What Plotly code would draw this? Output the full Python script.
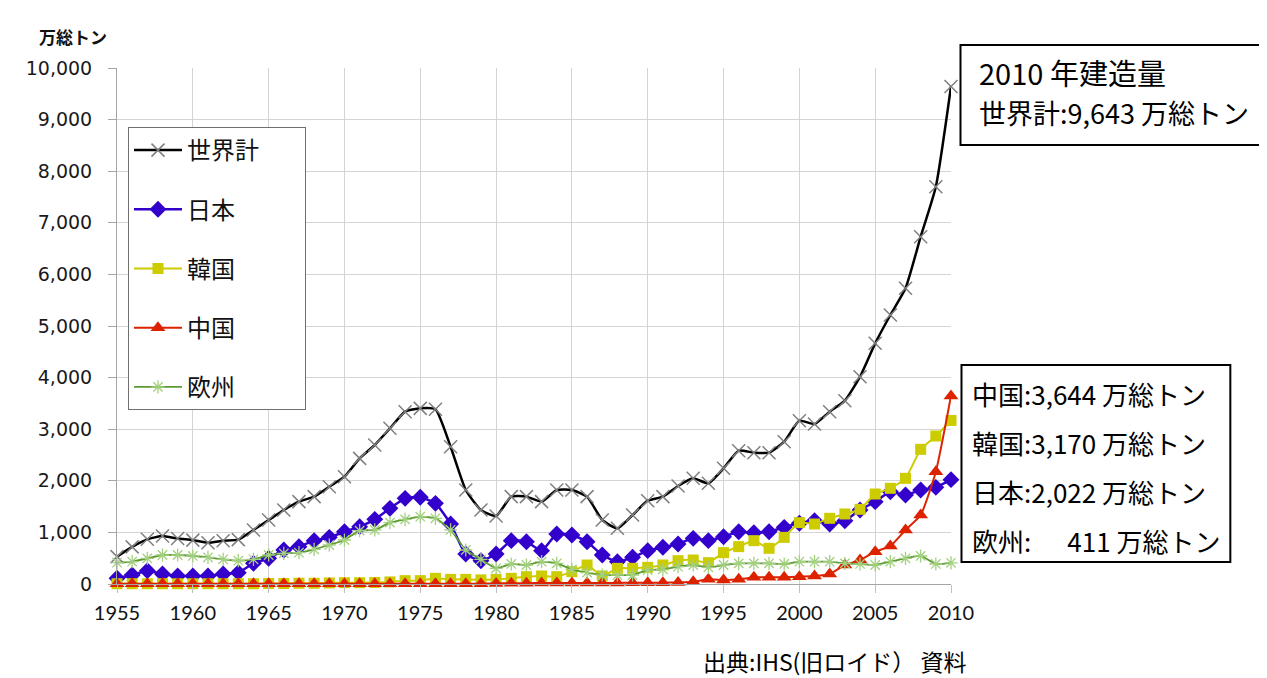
import plotly.graph_objects as go

years = list(range(1955, 2011))

world = [530, 720, 866, 930, 880, 850, 800, 840, 860, 1047, 1240, 1434, 1596, 1693, 1886,
         2080, 2435, 2694, 3017, 3340, 3404, 3385, 2661, 1822, 1434, 1318, 1693, 1693, 1596,
         1822, 1822, 1693, 1240, 1079, 1337, 1615, 1693, 1899, 2048, 1951, 2242, 2584, 2545,
         2545, 2758, 3165, 3100, 3340, 3553, 4018, 4664, 5213, 5730, 6731, 7700, 9643]

japan = [110, 175, 258, 194, 155, 155, 155, 194, 220, 400, 497, 659, 724, 840, 904,
         1014, 1111, 1253, 1466, 1660, 1680, 1563, 1163, 581, 452, 581, 840, 820, 646,
         969, 950, 820, 562, 433, 517, 646, 711, 775, 885, 840, 917, 1014, 995,
         1014, 1098, 1176, 1227, 1163, 1227, 1434, 1596, 1789, 1725, 1822, 1873, 2022]

korea = [5, 5, 5, 5, 5, 5, 5, 5, 5, 5, 10, 10, 15, 15, 20,
         25, 25, 30, 40, 65, 65, 110, 90, 90, 80, 90, 110, 142, 155,
         142, 239, 368, 155, 304, 304, 323, 368, 452, 465, 413, 607, 724, 840,
         691, 904, 1189, 1163, 1273, 1357, 1447, 1744, 1854, 2048, 2610, 2868, 3170]

china = [5, 5, 5, 5, 5, 5, 5, 5, 5, 5, 5, 5, 5, 5, 5,
         5, 5, 5, 5, 5, 5, 5, 5, 5, 5, 10, 15, 15, 20,
         20, 20, 20, 20, 20, 25, 25, 25, 30, 45, 90, 78, 90, 129,
         129, 129, 142, 155, 194, 368, 465, 627, 736, 1047, 1337, 2177, 3644]

europe = [413, 433, 497, 562, 562, 543, 517, 478, 452, 478, 562, 594, 607, 672, 756,
          853, 1034, 1047, 1189, 1253, 1305, 1273, 1047, 659, 478, 304, 388, 368, 433,
          400, 284, 220, 174, 174, 174, 271, 284, 336, 368, 323, 368, 400, 400,
          400, 388, 433, 433, 433, 400, 388, 368, 433, 497, 543, 388, 411]

names = ["世界計\u3000\u2002\u2009", "日本", "韓国", "中国", "欧州"]

yticks = [0, 1000, 2000, 3000, 4000, 5000, 6000, 7000, 8000, 9000, 10000]
ytick_text = ["0", "1,000", "2,000", "3,000", "4,000", "5,000", "6,000", "7,000", "8,000", "9,000", "10,000"]

# page offset (body margin) and plot-area geometry in window pixels
O = 8
W, H = 1267 - O, 678 - O
L, R, T, B = 117 - O, 951.5 - O, 68 - O, 584 - O


def px(x):
    return (x - O - L) / (R - L)


def py(y):
    return (B - (y - O)) / (B - T)


CJK = "Noto Sans CJK JP"

fig = go.Figure()

series = [
    (world, dict(color="#000000", width=2.5), dict(symbol="x-thin-open", size=13, color="#7f7f7f",
                                                   line=dict(color="#7f7f7f", width=1.5))),
    (japan, dict(color="#3300cc", width=2.5), dict(symbol="diamond", size=13, color="#3300cc")),
    (korea, dict(color="#cccc00", width=2), dict(symbol="square", size=11, color="#cccc00")),
    (china, dict(color="#dd2200", width=2), dict(symbol="triangle-up", size=13, color="#dd2200")),
    (europe, dict(color="#5b9b30", width=1.8), dict(symbol="asterisk-open", size=11, color="#a3d07f",
                                                    line=dict(color="#a3d07f", width=1.3))),
]

for i, (vals, ln, mk) in enumerate(series):
    fig.add_trace(go.Scatter(
        x=years, y=vals, name=names[i], mode="lines+markers",
        line=dict(shape="spline", smoothing=0.5, **ln),
        marker=mk, cliponaxis=False, legendgroup=f"g{i}",
    ))

fig.update_layout(
    width=W, height=H,
    margin=dict(l=L, r=W - R, t=T, b=H - B),
    paper_bgcolor="white", plot_bgcolor="white",
    font=dict(family="DejaVu Sans", color="#222222"),
    showlegend=True,
    legend=dict(
        x=px(128), y=py(127), xanchor="left", yanchor="top",
        bgcolor="white", bordercolor="#707070", borderwidth=1,
        font=dict(family=CJK, size=24, color="#111111"),
        traceorder="grouped", tracegroupgap=25, itemwidth=48,
    ),
    xaxis=dict(
        range=[1955, 2010], tickmode="array", tickvals=list(range(1955, 2011, 5)),
        showgrid=True, gridcolor="#d4d4d4", gridwidth=1,
        showline=True, linecolor="#a6a6a6", linewidth=1,
        ticks="outside", ticklen=8, tickcolor="#c0c0c0",
        tickfont=dict(family="Lato", size=20, color="#111111"),
        ticklabelstandoff=3,
        zeroline=False,
    ),
    yaxis=dict(
        range=[0, 10000], tickmode="array", tickvals=yticks, ticktext=ytick_text,
        showgrid=True, gridcolor="#d4d4d4", gridwidth=1,
        showline=True, linecolor="#a6a6a6", linewidth=1,
        ticks="outside", ticklen=8, tickcolor="#a6a6a6",
        tickfont=dict(family="DejaVu Sans", size=19, color="#1a1a1a"),
        ticklabelstandoff=12,
        zeroline=False,
    ),
)

# boxes
fig.add_shape(type="rect", xref="paper", yref="paper",
              x0=px(961), x1=px(1272), y0=py(145), y1=py(45),
              line=dict(color="black", width=2), fillcolor="white", layer="above")
fig.add_shape(type="rect", xref="paper", yref="paper",
              x0=px(962), x1=px(1231), y0=py(562), y1=py(365),
              line=dict(color="black", width=2), fillcolor="white", layer="above")

# texts
fig.add_annotation(text="2010 年建造量", xref="paper", yref="paper", x=px(978), y=py(72),
                   xanchor="left", yanchor="middle", showarrow=False,
                   font=dict(family=CJK, size=29, color="black"))
fig.add_annotation(text="世界計:9,643 万総トン", xref="paper", yref="paper", x=px(978), y=py(112),
                   xanchor="left", yanchor="middle", showarrow=False,
                   font=dict(family=CJK, size=27, color="black"))

lines2 = ["中国:3,644 万総トン", "韓国:3,170 万総トン", "日本:2,022 万総トン", "欧州:\u2007\u2007\u2008411 万総トン"]
for k, t in enumerate(lines2):
    fig.add_annotation(text=t, xref="paper", yref="paper", x=px(971), y=py(393 + k * 49),
                       xanchor="left", yanchor="middle", showarrow=False,
                       font=dict(family=CJK, size=26, color="black"))

fig.add_annotation(text="<b>万総トン</b>", xref="paper", yref="paper", x=px(37), y=py(37),
                   xanchor="left", yanchor="middle", showarrow=False,
                   font=dict(family=CJK, size=17, color="#111111"))

fig.add_annotation(text="出典:IHS(旧ロイド） 資料", xref="paper", yref="paper", x=px(702), y=py(661),
                   xanchor="left", yanchor="middle", showarrow=False, borderpad=0,
                   font=dict(family=CJK, size=23, color="black"))

fig.write_html("out.html")
